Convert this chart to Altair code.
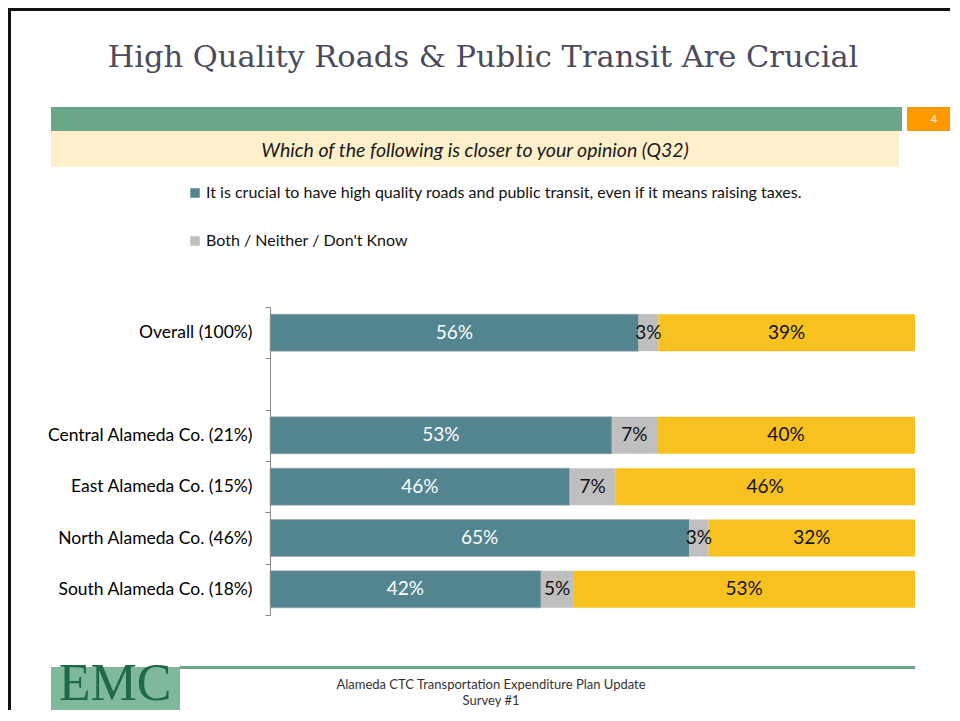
import altair as alt
import pandas as pd

# ---- data ----
categories = [
    "Overall (100%)",
    "Central Alameda Co. (21%)",
    "East Alameda Co. (15%)",
    "North Alameda Co. (46%)",
    "South Alameda Co. (18%)",
]
axis_rows = [categories[0], " "] + categories[1:]
series = [
    "It is crucial to have high quality roads and public transit, even if it means raising taxes.",
    "Both / Neither / Don't Know",
    "Taxes should not be raised",
]
crucial = [56, 53, 46, 65, 42]
both = [3, 7, 7, 3, 5]
other = [39, 40, 46, 32, 53]
colors = ["#52858f", "#bfbfbf", "#f7c11f"]

rows = []
for i, c in enumerate(categories):
    for k, vals in enumerate([crucial, both, other]):
        rows.append({"category": c, "series": series[k], "order": k,
                     "value": vals[i], "label": f"{vals[i]}%"})
df = pd.DataFrame(rows)
one = pd.DataFrame({"a": [0]})

# plot origin = image (270, 307)
def rect(x1, x2, y1, y2, color):
    return alt.Chart(one).mark_rect(color=color).encode(
        x=alt.value(x1 - 270), x2=alt.value(x2 - 270),
        y=alt.value(y1 - 307), y2=alt.value(y2 - 307))

def text(t, x, y, **kw):
    return alt.Chart(one).mark_text(text=t, **kw).encode(
        x=alt.value(x - 270), y=alt.value(y - 307))

bg = rect(8, 950, 8, 710, "white")
border_l = rect(8, 11, 8, 710, "#111111")
border_t = rect(8, 950, 8, 11, "#111111")
green_bar = rect(51, 902, 107, 131, "#6aa688")
orange_box = rect(907, 950, 107, 131, "#ff9900")
page_no = text("4", 934, 120, font="Lato", fontSize=11, color="#fff6e0",
               align="center", baseline="middle")
yellow_band = rect(51, 899, 131, 167, "#fff0cb")
title = text("High Quality Roads & Public Transit Are Crucial", 483, 67,
             font="DejaVu Serif", fontSize=30.5, color="#4b4b5b",
             align="center", baseline="alphabetic")
subtitle = text("Which of the following is closer to your opinion (Q32)", 475, 151,
                font="Lato", fontSize=19.5, fontStyle="italic", color="#1a1a1a",
                align="center", baseline="middle")
foot_line = rect(180, 915, 666, 669, "#6aa688")
logo_bg = rect(51, 180, 667, 710, "#7fb89a")
logo_txt = text("EMC", 115, 700, font="Liberation Serif", fontSize=52,
                color="#1d6a45", align="center", baseline="alphabetic")
foot1 = text("Alameda CTC Transportation Expenditure Plan Update", 491, 685,
             font="Lato", fontSize=13, color="#333333", align="center", baseline="middle")
foot2 = text("Survey #1", 491, 701, font="Lato", fontSize=13, color="#333333",
             align="center", baseline="middle")

base = alt.Chart(df).transform_stack(
    stack="value", groupby=["category"], as_=["v0", "v1"], offset="normalize",
    sort=[alt.SortField("order", order="ascending")]
).transform_calculate(mid="(datum.v0 + datum.v1) / 2")

xs = alt.Scale(domain=[0, 1], nice=False, zero=True)
ys = alt.Scale(domain=axis_rows, paddingInner=0, paddingOuter=0)
yaxis = alt.Axis(title=None, tickBand="extent", tickSize=5, tickColor="#8c8c8c",
                 domainColor="#8c8c8c", labelFont="Lato", labelFontSize=17.5,
                 labelColor="#000000", labelPadding=13, labelLimit=300, grid=False,
                 zindex=2)

bars = base.mark_bar(size=37, strokeWidth=0.6).encode(
    x=alt.X("v0:Q", scale=xs, axis=None),
    x2="v1:Q",
    y=alt.Y("category:N", scale=ys, axis=yaxis),
    stroke=alt.condition("datum.order == 0", alt.value("#a0a0a0"), alt.value("transparent")),
    color=alt.Color("series:N", scale=alt.Scale(domain=series, range=colors),
                    legend=alt.Legend(title=None, orient="none", legendX=-83, legendY=-122,
                                      values=series[:2], symbolType="square",
                                      symbolSize=90, symbolStrokeWidth=0,
                                      labelFont="Lato", labelFontSize=16,
                                      labelColor="#111111", rowPadding=32,
                                      labelLimit=800, direction="vertical",
                                      labelOffset=3, padding=0)),
)

labels = base.mark_text(font="Lato", fontSize=19, baseline="middle").encode(
    x=alt.X("mid:Q", scale=xs, axis=None),
    y=alt.Y("category:N", scale=ys, axis=yaxis),
    text="label:N",
    color=alt.condition("datum.order == 0", alt.value("white"), alt.value("#111111")),
)

chart = alt.layer(
    bg, border_l, border_t, green_bar, orange_box, page_no, yellow_band, title,
    subtitle, foot_line, logo_bg, logo_txt, foot1, foot2, bars, labels
).properties(width=645, height=308, padding=0).configure_view(stroke=None)

chart.save("out.html", embed_options={"renderer": "svg", "actions": False})
